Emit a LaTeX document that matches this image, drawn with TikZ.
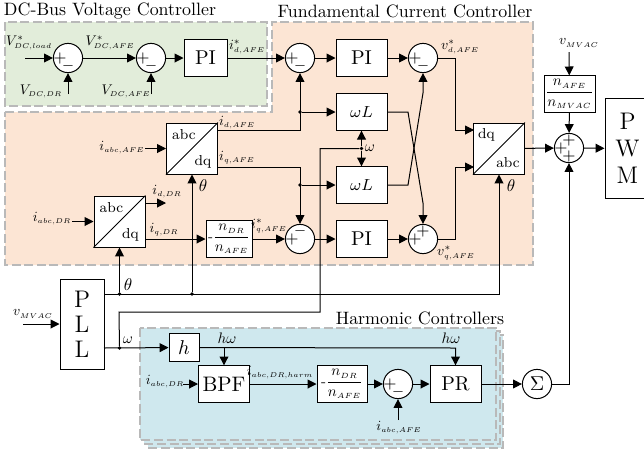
\documentclass[tikz,border=0pt]{standalone}
\usepackage{amsmath}
\usepackage{amssymb}
\usepackage{graphicx}
\usepackage{xcolor}
\usetikzlibrary{arrows.meta, positioning}
\definecolor{greenzone}{RGB}{226,237,218}
\definecolor{orangezone}{RGB}{252,229,212}
\definecolor{bluezone}{RGB}{207,232,238}
\definecolor{zoneline}{RGB}{185,185,185}
\newcommand{\ssb}[1]{_{\scriptscriptstyle #1}}
\newcommand{\ratio}[2]{\scalebox{0.75}{$\dfrac{n\ssb{#1}}{n\ssb{#2}}$}}

\begin{document}
\begin{tikzpicture}[
    x=0.5pt, y=-0.5pt,
    zone/.style={draw=zoneline, line width=0.75pt, dash pattern=on 4.5pt off 1.8pt},
    title/.style={font=\normalsize, inner sep=0pt, scale=0.895},
    block/.style={draw, fill=white, line width=0.5pt, inner sep=0pt, font=\normalsize},
    gain/.style={block, minimum width=25.5pt, minimum height=18.2pt},
    frac/.style={block, minimum height=18.2pt},
    conv/.style 2 args={block, minimum width=25.5pt, minimum height=25.5pt,
        label={[inner sep=0pt, font=\footnotesize, scale=0.9, #1]center:abc},
        label={[inner sep=0pt, font=\footnotesize, scale=0.9, #2]center:dq}},
    sumnode/.style={circle, draw, fill=white, line width=0.5pt, minimum size=14.6pt, inner sep=0pt},
    sgn/.style={inner sep=0pt, font=\footnotesize},
    sumpm/.style={sumnode,
        label={[sgn, xshift=-4pt]center:$+$},
        label={[sgn, yshift=-4pt, font=\scriptsize]center:$-$}},
    summp/.style={sumnode,
        label={[sgn, xshift=-4pt]center:$+$},
        label={[sgn, yshift=4pt, font=\scriptsize]center:$-$}},
    sumpp/.style={sumnode,
        label={[sgn, xshift=-4pt]center:$+$},
        label={[sgn, yshift=4pt]center:$+$}},
    sumppp/.style={sumpp,
        label={[sgn, yshift=-4pt]center:$+$}},
    lbl/.style={inner sep=0pt, scale=0.7},
    greek/.style={inner sep=0pt, scale=0.85},
    omg/.style={inner sep=0pt, scale=0.76},
    wire/.style={line width=0.5pt},
    arr/.style={wire, -{Triangle[length=4.4pt, width=4.4pt]}},
    dot/.style={circle, fill, inner sep=0pt, minimum size=1.8pt}
  ]
  \useasboundingbox (0,0) rectangle (644,452);

  \fill[white] (0,0) rectangle (644,452);
  \draw[zone, fill=bluezone] (148,335) rectangle (503,448);
  \draw[zone, fill=bluezone] (144,331) rectangle (500,444);
  \draw[zone, fill=bluezone] (140,328) rectangle (496,440);
  \draw[zone, fill=greenzone] (5,22) rectangle (267,106);
  \draw[zone, fill=orangezone] (5,112) -- (272,112) -- (272,22) -- (533,22) -- (533,265) -- (5,265) -- cycle;

  \node[title] (dctitle) at (110,11) {DC-Bus Voltage Controller};
  \node[title] (fundtitle) at (405,11) {Fundamental Current Controller};
  \node[title] (harmtitle) at (420,318) {Harmonic Controllers};

  \node[sumpm] (s1) at (68,58) {};
  \node[sumpm] (s2) at (151,58) {};
  \node[gain, minimum width=21.5pt] (pi1) at (205.5,58) {PI};
  \node[sumpm] (s3) at (300,58) {};
  \node[gain] (pi2) at (361.5,58) {PI};
  \node[sumpm] (s4) at (423,58) {};
  \node[gain, font=\footnotesize] (wl1) at (361.5,112) {$\omega L$};
  \node[gain, font=\footnotesize] (wl2) at (361.5,185) {$\omega L$};
  \node[conv={xshift=-4.5pt, yshift=7.8pt}{xshift=6pt, yshift=-7.5pt}] (adq1) at (192,148.5) {};
  \node[conv={xshift=-4.5pt, yshift=7.8pt}{xshift=6pt, yshift=-7.5pt}] (adq2) at (119.5,221.5) {};
  \node[conv={xshift=5pt, yshift=-8pt}{xshift=-7pt, yshift=7.8pt}] (dqa) at (499,148.5) {};
  \draw[wire] (adq1.south west) -- (adq1.north east);
  \draw[wire] (adq2.south west) -- (adq2.north east);
  \draw[wire] (dqa.south west) -- (dqa.north east);
  \node[frac, minimum width=23pt] (ratio1) at (229,239) {\scalebox{0.75}{-}\ratio{DR}{AFE}};
  \node[summp] (s5) at (300,239) {};
  \node[gain] (pi3) at (361.5,239) {PI};
  \node[sumpp] (s6) at (423,239) {};
  \node[sumppp] (s7) at (569,148) {};
  \node[frac, minimum width=25.5pt] (ratio2) at (569.5,94) {\ratio{AFE}{MVAC}};
  \node[block, font=\large, align=center, minimum width=22.5pt, minimum height=50pt] (pwm) at (627.5,148.5) {P\\[-0.5pt]W\\[-0.5pt]M};
  \node[block, font=\large, align=center, minimum width=22pt, minimum height=45pt] (pll) at (82,324) {P\\[-1.5pt]L\\[-1.5pt]L};
  \node[block, minimum width=15pt, minimum height=13.7pt] (hblock) at (184,347.5) {$h$};
  \node[gain, font=\fontsize{10.5}{12}\selectfont] (bpf) at (224,384) {BPF};
  \node[frac, minimum width=25pt] (ratio3) at (342,384) {\scalebox{0.75}{-}\ratio{DR}{AFE}};
  \node[sumpm] (s8) at (398,384) {};
  \node[gain] (pr) at (455.5,384) {PR};
  \node[sumnode] (sigma) at (537,384) {$\Sigma$};

  \coordinate (vload_in) at (25,58);
  \coordinate (vdr_in) at (68,94);
  \coordinate (vafe_in) at (151,94);
  \coordinate (adq1_d) at (217.5,130);
  \coordinate (adq1_q) at (217.5,167);
  \coordinate (iabc_afe_in) at (145,148.5);
  \coordinate (iabc_dr_in) at (72,221.5);
  \coordinate (adq2_d) at (145,203);
  \coordinate (idr_out) at (166,203);
  \coordinate (adq2_q) at (145,239);
  \coordinate (cross_a) at (408,112);
  \coordinate (cross_b) at (423,203);
  \coordinate (cross_c) at (408,185);
  \coordinate (cross_d) at (423,93);
  \coordinate (vd_bend) at (455,58);
  \coordinate (vq_bend) at (455,239);
  \coordinate (dqa_d) at (474,130);
  \coordinate (dqa_q) at (474,167);
  \coordinate (vmvac_top) at (569,52);
  \coordinate (vmvac_left) at (23,324);
  \coordinate (pll_theta) at (104,294);
  \coordinate (pll_omega) at (104,348);
  \coordinate (theta_end) at (499,294);
  \coordinate (omega_up) at (119,312);
  \coordinate (omega_mid) at (320,312);
  \coordinate (omega_top) at (320,148.5);
  \coordinate (h_end) at (455.5,348);
  \coordinate (idr2_in) at (183,384);
  \coordinate (iafe2_in) at (398,420);
  \coordinate (sigma_up) at (569,384);

  \node[dot] (j_id) at (300,112) {};
  \node[dot] (j_iq) at (300,185) {};
  \node[dot] (j_w) at (361.5,148.5) {};
  \node[dot] (j_th1) at (119.5,294) {};
  \node[dot] (j_th2) at (192,294) {};
  \node[dot] (j_om) at (119.5,348) {};

  \draw[arr] (vload_in) -- (s1);
  \draw[arr] (s1) -- (s2);
  \draw[arr] (s2) -- (pi1);
  \draw[arr] (pi1) -- (s3);
  \draw[arr] (vdr_in) -- (s1);
  \draw[arr] (vafe_in) -- (s2);
  \draw[arr] (s3) -- (pi2);
  \draw[arr] (pi2) -- (s4);
  \draw[arr] (adq1_d) -| (s3);
  \draw[arr] (adq1_q) -| (s5);
  \draw[arr] (j_id) -- (wl1);
  \draw[arr] (j_iq) -- (wl2);
  \draw[arr] (iabc_afe_in) -- (adq1);
  \draw[arr] (iabc_dr_in) -- (adq2);
  \draw[arr] (adq2_d) -- (idr_out);
  \draw[arr] (adq2_q) -- (ratio1);
  \draw[arr] (ratio1) -- (s5);
  \draw[arr] (s5) -- (pi3);
  \draw[arr] (pi3) -- (s6);
  \draw[arr] (wl1) -- (cross_a) -- (cross_b) -- (s6);
  \draw[arr] (wl2) -- (cross_c) -- (cross_d) -- (s4);
  \draw[arr] (s4) -- (vd_bend) |- (dqa_d);
  \draw[arr] (s6) -- (vq_bend) |- (dqa_q);
  \draw[arr] (dqa) -- (s7);
  \draw[arr] (s7) -- (pwm);
  \draw[arr] (vmvac_top) -- (ratio2);
  \draw[arr] (ratio2) -- (s7);
  \draw[arr] (vmvac_left) -- (pll);
  \draw[arr] (pll_theta) -- (theta_end) -- (dqa);
  \draw[arr] (j_th1) -- (adq2);
  \draw[arr] (j_th2) -- (adq1);
  \draw[arr] (pll_omega) -- (hblock);
  \draw[wire] (j_om) -- (omega_up) -- (omega_mid) -- (omega_top) -- (j_w);
  \draw[arr] (j_w) -- (wl1);
  \draw[arr] (j_w) -- (wl2);
  \draw[arr] (hblock) -- (h_end) -- (pr);
  \draw[arr] (hblock -| bpf) -- (bpf);
  \draw[arr] (idr2_in) -- (bpf);
  \draw[arr] (bpf) -- (ratio3);
  \draw[arr] (ratio3) -- (s8);
  \draw[arr] (s8) -- (pr);
  \draw[arr] (iafe2_in) -- (s8);
  \draw[arr] (pr) -- (sigma);
  \draw[arr] (sigma) -- (sigma_up) -- (s7);

  \node[lbl] (l_vload) at (29,43) {$V^{*}\ssb{DC,load}$};
  \node[lbl] (l_vafe_ref) at (110,43) {$V^{*}\ssb{DC,AFE}$};
  \node[lbl] (l_idref) at (247,47) {$i^{*}\ssb{d,AFE}$};
  \node[lbl] (l_vdr) at (41,91) {$V\ssb{DC,DR}$};
  \node[lbl] (l_vafe) at (126,91) {$V\ssb{DC,AFE}$};
  \node[lbl] (l_idafe) at (237,123) {$i\ssb{d,AFE}$};
  \node[lbl] (l_vd) at (460,47) {$v^{*}\ssb{d,AFE}$};
  \node[lbl] (l_vmvac1) at (579,43) {$v\ssb{MVAC}$};
  \node[lbl] (l_iabcafe) at (122,148) {$i\ssb{abc,AFE}$};
  \node[lbl] (l_iqafe) at (237,158) {$i\ssb{q,AFE}$};
  \node[lbl] (l_iddr) at (167,192) {$i\ssb{d,DR}$};
  \node[lbl] (l_iabcdr) at (52,219) {$i\ssb{abc,DR}$};
  \node[lbl] (l_iqdr) at (164,230) {$i\ssb{q,DR}$};
  \node[lbl] (l_iqref) at (269,226) {$i^{*}\ssb{q,AFE}$};
  \node[lbl] (l_vq) at (456,253) {$v^{*}\ssb{q,AFE}$};
  \node[lbl] (l_vmvac2) at (33,314) {$v\ssb{MVAC}$};
  \node[lbl] (l_iabcdr2) at (165,382) {$i\ssb{abc,DR}$};
  \node[lbl] (l_harm) at (280,373) {$i\ssb{abc,DR,harm}$};
  \node[lbl] (l_iabcafe2) at (399,428) {$i\ssb{abc,AFE}$};
  \node[greek] (l_th1) at (128,285) {$\theta$};
  \node[greek] (l_th2) at (203,186) {$\theta$};
  \node[greek] (l_th3) at (511,186) {$\theta$};
  \node[omg] (l_om1) at (370,148) {$\omega$};
  \node[omg] (l_om2) at (128,340) {$\omega$};
  \node[omg] (l_hw1) at (227,338) {$h\omega$};
  \node[omg] (l_hw2) at (451,338) {$h\omega$};
\end{tikzpicture}
\end{document}
